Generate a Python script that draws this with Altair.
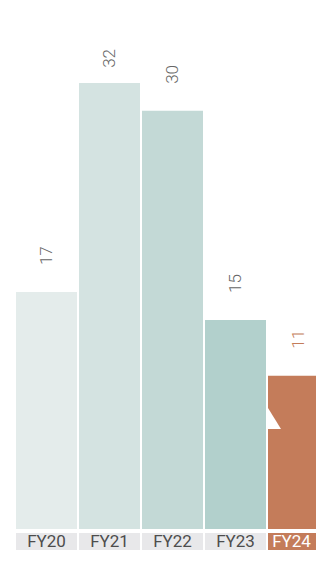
import altair as alt
import pandas as pd

years = ["FY20", "FY21", "FY22", "FY23", "FY24"]
values = [17, 32, 30, 15, 11]
bar_colors = ["#e4eceb", "#d4e3e1", "#c3d9d6", "#b2d0cc", "#c47c5a"]
label_bg = ["#e8e8ea", "#e8e8ea", "#e8e8ea", "#e8e8ea", "#c47c5a"]
label_fg = ["#4d4d4d", "#4d4d4d", "#4d4d4d", "#4d4d4d", "#ffffff"]
value_fg = ["#666666", "#666666", "#666666", "#666666", "#c47c5a"]

df = pd.DataFrame({
    "year": years,
    "value": values,
    "bar_color": bar_colors,
    "label_bg": label_bg,
    "label_fg": label_fg,
    "value_fg": value_fg,
})

PLOT_H = 521

x = alt.X("year:N", sort=years, axis=None,
          scale=alt.Scale(range=[0, 313], paddingInner=2 / 63, paddingOuter=0))
y_scale = alt.Scale(domain=[0, 37.38], nice=False, zero=True)

base = alt.Chart(df)

bars = base.mark_bar(cornerRadius=0).encode(
    x=x,
    y=alt.Y("value:Q", scale=y_scale, axis=None),
    color=alt.Color("bar_color:N", scale=None),
)

value_labels = base.transform_calculate(
    lab="min(datum.value, 31.15)"
).mark_text(
    angle=270, align="left", baseline="middle", dx=27,
    font="Roboto", fontSize=17, fontWeight=300,
).encode(
    x=x,
    y=alt.Y("lab:Q", scale=y_scale, axis=None),
    text=alt.Text("value:Q"),
    color=alt.Color("value_fg:N", scale=None),
)

notch = base.transform_filter(alt.datum.year == "FY24").mark_point(
    shape="M-30.5,-21L-30.5,0L-17.5,0Z", size=4, filled=True,
    color="#ffffff", opacity=1, strokeWidth=0,
).encode(
    x=x,
    y=alt.value(421),
)

label_boxes = base.mark_rect().encode(
    x=x,
    y=alt.value(PLOT_H + 4),
    y2=alt.value(PLOT_H + 21),
    color=alt.Color("label_bg:N", scale=None),
)

label_text = base.transform_filter(alt.datum.year != "FY24").mark_text(
    align="center", baseline="middle", font="Roboto", fontSize=17, fontWeight=400,
).encode(
    x=x,
    y=alt.value(PLOT_H + 13),
    text="year:N",
    color=alt.Color("label_fg:N", scale=None),
)

label_text_last = base.transform_filter(alt.datum.year == "FY24").mark_text(
    align="center", baseline="middle", font="Roboto", fontSize=17, fontWeight=400,
    dx=-7,
).encode(
    x=x,
    y=alt.value(PLOT_H + 13),
    text="year:N",
    color=alt.Color("label_fg:N", scale=None),
)

chart = alt.layer(bars, value_labels, notch, label_boxes, label_text, label_text_last).properties(
    width=300,
    height=PLOT_H,
    autosize=alt.AutoSizeParams(type="none"),
    padding={"left": 8, "top": 0, "right": 0, "bottom": 21},
).configure_view(stroke=None)

chart.save("out.html", embed_options={"renderer": "svg", "actions": False})
